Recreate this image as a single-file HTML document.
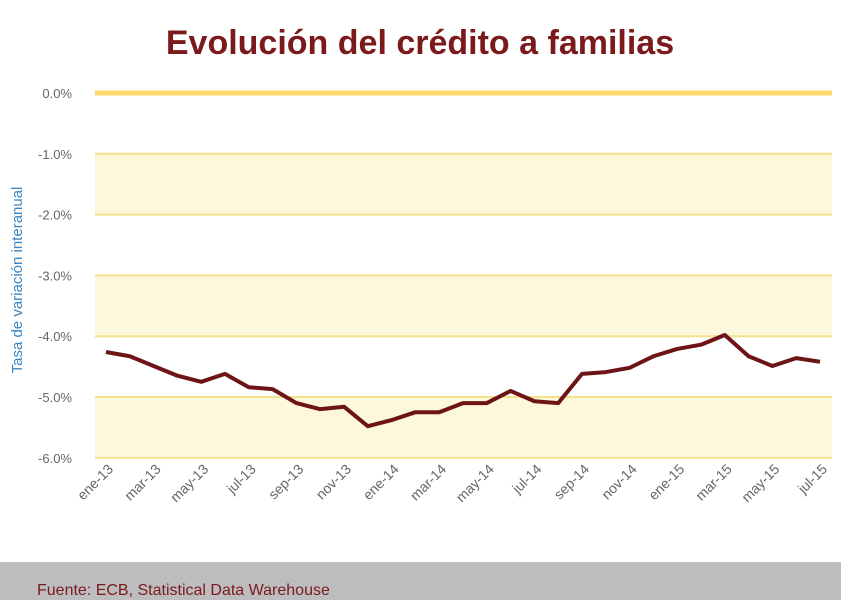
<!DOCTYPE html>
<html><head><meta charset="utf-8"><style>
body{margin:0;width:841px;height:600px;background:#fff;overflow:hidden;font-family:"Liberation Sans",sans-serif}
</style></head><body>
<svg width="841" height="600">
<text x="420" y="54" text-anchor="middle" font-size="34" font-weight="bold" fill="#7b1a1c">Evolución del crédito a familias</text>
<g id="bands"></g><g id="grid"></g><g id="yt"></g><g id="xt"></g>
<path id="line" fill="none" stroke="#6e1418" stroke-width="4" stroke-linejoin="round"/>
<text transform="translate(22,280) rotate(-90)" text-anchor="middle" font-size="15" fill="#3a86c4">Tasa de variación interanual</text>
<rect x="0" y="562" width="841" height="38" fill="#bdbdbf"/>
<text x="37" y="595" font-size="16" fill="#7b1a1c">Fuente: ECB, Statistical Data Warehouse</text>
</svg>
<script>
const months=["ene-13","feb-13","mar-13","abr-13","may-13","jun-13","jul-13","ago-13","sep-13","oct-13","nov-13","dic-13","ene-14","feb-14","mar-14","abr-14","may-14","jun-14","jul-14","ago-14","sep-14","oct-14","nov-14","dic-14","ene-15","feb-15","mar-15","abr-15","may-15","jun-15","jul-15"];
const values=[-4.26,-4.33,-4.49,-4.65,-4.75,-4.62,-4.84,-4.87,-5.10,-5.20,-5.16,-5.48,-5.38,-5.25,-5.25,-5.10,-5.10,-4.90,-5.07,-5.10,-4.62,-4.59,-4.52,-4.33,-4.21,-4.14,-3.98,-4.33,-4.49,-4.36,-4.42];
const yTicks=[0,-1,-2,-3,-4,-5,-6];
const NS="http://www.w3.org/2000/svg";
const y=v=>93+(-v)*60.8;
const x=i=>106+i*(820-106)/(months.length-1);
function mk(t,a,p){const e=document.createElementNS(NS,t);for(const k in a)e.setAttribute(k,a[k]);document.getElementById(p).appendChild(e);return e;}
for(let k=1;k<6;k+=2){
 const r=mk("rect",{x:95,y:y(-k),width:737,height:y(-k-1)-y(-k),fill:"#fdf7dc"},"bands");
 
 
}
yTicks.forEach(v=>{
 const l=mk("line",{x1:95,x2:832,y1:y(v),y2:y(v),stroke:v===0?"#fbd96a":"#f5e08c","stroke-width":v===0?5:2},"grid");
 
 
 const t=mk("text",{x:72,y:y(v)+5,"text-anchor":"end","font-size":13,fill:"#666"},"yt");
 t.textContent=v.toFixed(1)+"%";
 
 
});
months.forEach((m,i)=>{
 if(i%2)return;
 const t=mk("text",{transform:`translate(${x(i)+8},${470}) rotate(-45)`,"text-anchor":"end","font-size":14,fill:"#666"},"xt");
 t.textContent=m.replace("ene","ene").replace("may","may");
 
 
});
document.getElementById("line").setAttribute("d",values.map((v,i)=>(i?"L":"M")+x(i)+","+y(v)).join(""));
</script>
</body></html>
